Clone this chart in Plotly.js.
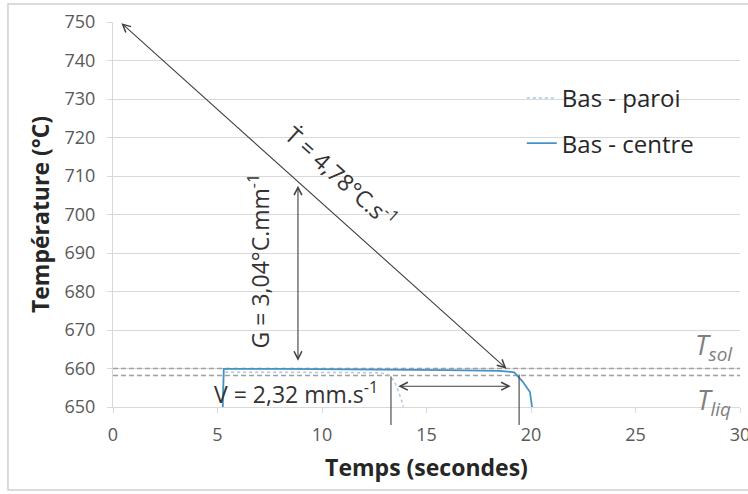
<!DOCTYPE html>
<html>
<head>
<meta charset="utf-8">
<script src="https://cdn.plot.ly/plotly-3.0.1.min.js"></script>
<style>html,body{margin:0;padding:0;background:#fff}#chart{width:748px;height:494px}</style>
</head>
<body>
<div id="chart"></div>
<script>
// ---- data ----
const seriesNames = ["Bas - paroi", "Bas - centre"];
const timeParoi = [5.25, 5.3, 9, 12.8, 13.2, 13.45, 13.7, 13.9];
const tempParoi = [650, 659.0, 659.0, 658.9, 658.3, 656.8, 653.5, 650];
const timeCentre = [5.25, 5.3, 8, 12, 16, 18.5, 19.2, 19.6, 19.95, 20.05];
const tempCentre = [650, 659.9, 659.9, 659.8, 659.6, 659.4, 659.0, 656.6, 653.9, 650];
const tSol = 660.0;
const tLiq = 658.2;
const xRange = [0, 30];
const yRange = [650, 750];
const xTicks = [0, 5, 10, 15, 20, 25, 30];
const yTicks = [650, 660, 670, 680, 690, 700, 710, 720, 730, 740, 750];

const FONT = "Open Sans, Liberation Sans, sans-serif";

const traces = [
  {x: xRange, y: [tSol, tSol], mode: 'lines', showlegend: false, hoverinfo: 'skip',
   line: {color: '#a0a0a0', width: 1.5, dash: '5px,3px'}},
  {x: xRange, y: [tLiq, tLiq], mode: 'lines', showlegend: false, hoverinfo: 'skip',
   line: {color: '#a0a0a0', width: 1.5, dash: '5px,3px'}},
  {x: timeParoi, y: tempParoi, name: seriesNames[0], mode: 'lines', legendgroup: 'a',
   line: {color: '#a9c9e2', width: 1.5, dash: 'dot'}},
  {x: timeCentre, y: tempCentre, name: seriesNames[1], mode: 'lines', legendgroup: 'b',
   line: {color: '#4592c4', width: 1.8}}
];

const arrowCol = '#404040';
function arrow(x, y, ax, ay, both, head) {
  return {x: x, y: y, ax: ax, ay: ay, xref: 'x', yref: 'y', axref: 'x', ayref: 'y',
    text: '', showarrow: true, arrowhead: head === undefined ? 5 : head,
    startarrowhead: head === undefined ? 5 : head,
    arrowside: both ? 'end+start' : 'end', arrowsize: 1.4, startarrowsize: 1.4,
    arrowwidth: 1.1, arrowcolor: arrowCol, standoff: 0, startstandoff: 0};
}
function label(x, y, text, angle, size, color, extra) {
  return Object.assign({x: x, y: y, xref: 'x', yref: 'y', text: text, showarrow: false,
    textangle: angle, font: {family: FONT, size: size, color: color}}, extra || {});
}

const annotations = [
  arrow(0.4, 749.7, 18.9, 659.6, true),
  arrow(8.85, 707.5, 8.85, 661.6, true),
  arrow(13.65, 655.4, 19.1, 655.4, true),
  arrow(13.3, 645.3, 13.3, 658.3, false, 0),
  arrow(19.43, 645.3, 19.43, 658.8, false, 0),
  label(10.95, 709.8, 'Ṫ = 4,78°C.s<sup>-1</sup>', 42, 23, '#333333'),
  label(7.0, 687.9, 'G = 3,04°C.mm<sup>-1</sup>', -90, 23, '#333333'),
  label(8.75, 653.7, 'V = 2,32 mm.s<sup>-1</sup>', 0, 23, '#333333'),
  label(28.75, 665.8, '<i>T<sub>sol</sub></i>', 0, 27, '#7f7f7f'),
  label(28.75, 651.4, '<i>T<sub>liq</sub></i>', 0, 27, '#7f7f7f')
];

const layout = {
  width: 748, height: 494,
  margin: {l: 113, r: 8, t: 22, b: 87},
  paper_bgcolor: '#ffffff', plot_bgcolor: '#ffffff',
  font: {family: FONT, color: '#595959'},
  showlegend: true,
  legend: {x: 0.652, y: 0.860, xanchor: 'left', yanchor: 'top', bgcolor: 'rgba(0,0,0,0)',
    font: {family: FONT, size: 24, color: '#262626'}, tracegroupgap: 11},
  xaxis: {range: xRange, tickvals: xTicks, ticktext: xTicks.map(String), showgrid: false,
    zeroline: false, showline: true, linecolor: '#d9d9d9', linewidth: 1,
    ticks: 'outside', ticklen: 5, tickcolor: '#d9d9d9', ticklabeloverflow: 'allow',
    tickfont: {family: FONT, size: 18, color: '#595959'}, ticklabelstandoff: 6,
    title: {text: '<b>Temps (secondes)</b>', standoff: 15, font: {family: FONT, size: 23, color: '#262626'}}},
  yaxis: {range: yRange, tickvals: yTicks, ticktext: yTicks.map(String), showgrid: true,
    gridcolor: '#d9d9d9', gridwidth: 1, zeroline: false, showline: true, linecolor: '#d9d9d9',
    ticks: 'outside', ticklen: 5, tickcolor: '#d9d9d9',
    tickfont: {family: FONT, size: 18, color: '#595959'}, ticklabelstandoff: 8,
    title: {text: '<b>Température (°C)</b>', standoff: 8, font: {family: FONT, size: 23, color: '#262626'}}},
  annotations: annotations,
  shapes: [
    {type: 'rect', xref: 'paper', yref: 'paper', x0: -0.1675, x1: 1.03, y0: -0.2156, y1: 1.0468,
     line: {color: '#d0d0d0', width: 1.5}, fillcolor: 'rgba(0,0,0,0)', layer: 'below'}
  ]
};

Plotly.newPlot('chart', traces, layout, {displayModeBar: false, staticPlot: true});
</script>
</body>
</html>
